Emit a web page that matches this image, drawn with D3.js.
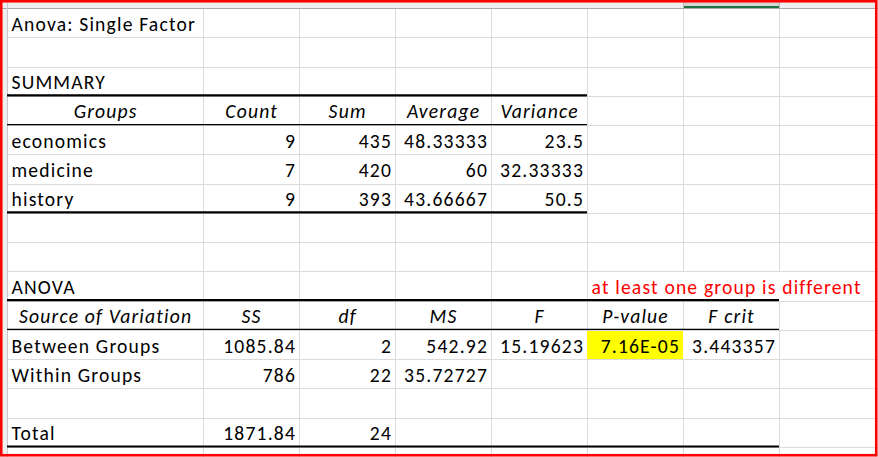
<!DOCTYPE html>
<html><head><meta charset="utf-8">
<script src="https://cdn.jsdelivr.net/npm/d3@7"></script>
<style>
html,body{margin:0;padding:0;background:#fff;overflow:hidden}
svg{display:block}
text{font-family:Calibri,Carlito,Lato,"Open Sans",sans-serif;font-size:19.6px;letter-spacing:1.18px;fill:#000}
</style></head>
<body>
<svg id="c" width="878" height="457"></svg>
<script>
// ---- data ----
const title = "Anova: Single Factor";
const summaryLabel = "SUMMARY";
const summaryHeaders = ["Groups", "Count", "Sum", "Average", "Variance"];
const groups = ["economics", "medicine", "history"];
const counts = ["9", "7", "9"];
const sums = ["435", "420", "393"];
const averages = ["48.33333", "60", "43.66667"];
const variances = ["23.5", "32.33333", "50.5"];
const anovaLabel = "ANOVA";
const note = "at least one group is different";
const anovaHeaders = ["Source of Variation", "SS", "df", "MS", "F", "P-value", "F crit"];
const sources = ["Between Groups", "Within Groups", "", "Total"];
const ssVals = ["1085.84", "786", "", "1871.84"];
const dfVals = ["2", "22", "", "24"];
const msVals = ["542.92", "35.72727", "", ""];
const fVals = ["15.19623", "", "", ""];
const pVals = ["7.16E-05", "", "", ""];
const fcritVals = ["3.443357", "", "", ""];

// ---- layout ----
const W = 878, H = 457;
const svg = d3.select("#c");
const nRows = 15;
const y = d3.scaleLinear().domain([0, nRows]).range([8, 447]);
const colEdges = [7, 203, 299, 395, 491, 587, 683, 779, 875];
const x = i => colEdges[i];
const padL = 4.5, padR = 3;

// background header slivers
svg.append("rect").attr("x",0).attr("y",0).attr("width",W).attr("height",8).attr("fill","#efefef");
svg.append("rect").attr("x",0).attr("y",0).attr("width",7).attr("height",H).attr("fill","#efefef");
svg.append("rect").attr("x",683).attr("y",0).attr("width",96).attr("height",8).attr("fill","#d6d6d6");
svg.append("rect").attr("x",683).attr("y",6).attr("width",96).attr("height",2).attr("fill","#217346");

// yellow highlight cell
svg.append("rect").attr("x",x(5)).attr("y",y(11)).attr("width",x(6)-x(5)).attr("height",y(12)-y(11)).attr("fill","#ffff00");

// gridlines
const g = svg.append("g").attr("shape-rendering","crispEdges");
const hLines = d3.range(1, nRows + 2).map(i => i <= nRows ? y(i) : y(nRows) + 7.5);
g.selectAll("line.h").data(hLines).join("line")
  .attr("x1", 7).attr("x2", W).attr("y1", d => Math.round(d)+0.5).attr("y2", d => Math.round(d)+0.5)
  .attr("stroke", "#dadada");
const vSegs = [];
colEdges.forEach((cx, ci) => {
  for (let r = 0; r <= nRows; r++) {
    if (r === 9 && (ci === 6 || ci === 7)) continue;
    if (r === 11 && (ci === 5 || ci === 6)) continue;
    const y0 = r === 0 ? 8 : y(r);
    const y1 = r === nRows ? H : y(r + 1);
    vSegs.push({x: cx, y0, y1});
  }
});
g.selectAll("line.v").data(vSegs).join("line")
  .attr("x1", d => Math.round(d.x)+0.5).attr("x2", d => Math.round(d.x)+0.5)
  .attr("y1", d => d.y0).attr("y2", d => d.y1)
  .attr("stroke", "#dadada");
g.append("line").attr("x1",0).attr("x2",W).attr("y1",8.5).attr("y2",8.5).attr("stroke","#a8a8a8");
g.append("line").attr("x1",7.5).attr("x2",7.5).attr("y1",0).attr("y2",H).attr("stroke","#c8c8c8");
g.append("line").attr("x1",683.5).attr("x2",683.5).attr("y1",0).attr("y2",8).attr("stroke","#b8b8b8");
g.append("line").attr("x1",779.5).attr("x2",779.5).attr("y1",0).attr("y2",8).attr("stroke","#b8b8b8");

// table borders
const borders = [
  {r: 3, c0: 0, c1: 5, w: 2.2},
  {r: 4, c0: 0, c1: 5, w: 1.2},
  {r: 7, c0: 0, c1: 5, w: 2.2},
  {r: 10, c0: 0, c1: 7, w: 2.2},
  {r: 11, c0: 0, c1: 7, w: 1.2},
  {r: 15, c0: 0, c1: 7, w: 2.2}
];
svg.selectAll("line.b").data(borders).join("line")
  .attr("x1", d => x(d.c0)).attr("x2", d => x(d.c1))
  .attr("y1", d => y(d.r) - 0.5).attr("y2", d => y(d.r) - 0.5)
  .attr("stroke", "#000").attr("stroke-width", d => d.w);

// ---- text cells ----
const cells = [];
const L = (r, c, t, o = {}) => cells.push(Object.assign({r, c, t, align: "left"}, o));
const R = (r, c, t, o = {}) => cells.push(Object.assign({r, c, t, align: "right"}, o));
const C = (r, c, t, o = {}) => cells.push(Object.assign({r, c, t, align: "center", italic: true}, o));

L(0, 0, title);
L(2, 0, summaryLabel);
summaryHeaders.forEach((h, i) => C(3, i, h));
groups.forEach((gname, i) => {
  const r = 4 + i;
  L(r, 0, gname);
  R(r, 1, counts[i]); R(r, 2, sums[i]); R(r, 3, averages[i]); R(r, 4, variances[i]);
});
L(9, 0, anovaLabel);
L(9, 5, note, {color: "#ff0000"});
anovaHeaders.forEach((h, i) => C(10, i, h));
sources.forEach((s, i) => {
  const r = 11 + i;
  if (s) L(r, 0, s);
  [ssVals, dfVals, msVals, fVals, pVals, fcritVals].forEach((arr, j) => {
    if (arr[i]) R(r, j + 1, arr[i]);
  });
});

svg.selectAll("text.cell").data(cells).join("text")
  .attr("class", "cell")
  .attr("x", d => d.align === "left" ? x(d.c) + padL : d.align === "right" ? x(d.c + 1) - padR : (x(d.c) + x(d.c + 1)) / 2 + 0.6)
  .attr("y", d => y(d.r + 1) - 6.6)
  .attr("text-anchor", d => d.align === "left" ? "start" : d.align === "right" ? "end" : "middle")
  .style("font-style", d => d.italic ? "italic" : null)
  .style("fill", d => d.color || null)
  .text(d => d.t);

// outer red frame
svg.append("rect").attr("x",1.25).attr("y",1.25).attr("width",W-3).attr("height",H-3)
  .attr("fill","none").attr("stroke","#ff0000").attr("stroke-width",2.6);
</script>
</body></html>
